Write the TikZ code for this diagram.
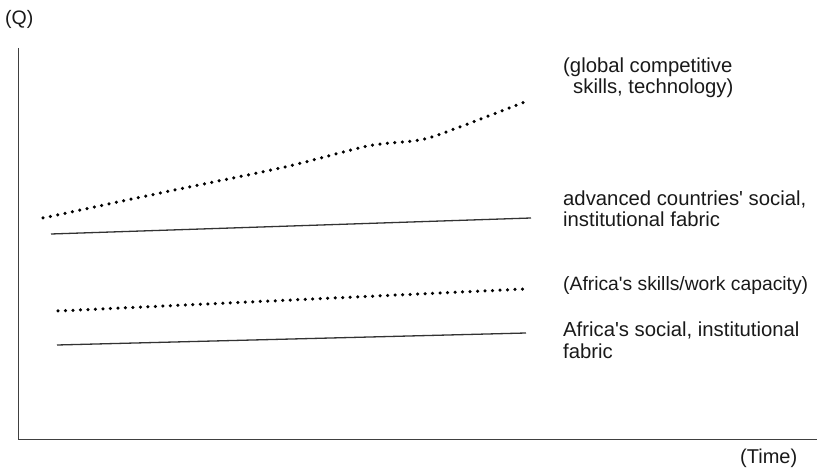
\documentclass[tikz,border=0pt]{standalone}
\usepackage{fontspec}
\setmainfont{Liberation Sans}[Ligatures=TeXOff]
\begin{document}
\begin{tikzpicture}[x=1pt,y=-1pt,
  axisline/.style={line width=1pt,draw=black!75},
  solidcurve/.style={line width=1.3pt,draw=black!80},
  dotcurve/.style={line width=3.5pt,line cap=round,dash pattern=on 0pt off 7.5pt,draw=black},
  lbl/.style={anchor=base west,inner sep=0pt,font=\fontsize{20.3}{20}\selectfont,text=black!90}]
\useasboundingbox (0,0) rectangle (817,470);
% axes
\coordinate (ytop) at (18,48);
\coordinate (orig) at (18,439);
\coordinate (xend) at (817,439);
\draw[axisline] (ytop) -- (orig) -- (xend);
\node[lbl,font=\fontsize{19.5}{20}\selectfont] (q) at (5,25) {(Q)};
\node[lbl,font=\fontsize{20}{20}\selectfont] (time) at (740,463) {(Time)};
% global competitive skills
\draw[dotcurve] plot[smooth,tension=0.5] coordinates {(43,218) (165,192) (285,167) (368,146) (420,140) (457,128) (527,101)};
\node[lbl] (g1) at (563,73) {(global competitive};
\node[lbl] (g2) at (573,94) {skills, technology)};
% advanced countries fabric
\coordinate (a1) at (51,234);
\coordinate (a2) at (531,218);
\draw[solidcurve] (a1) -- (a2);
\node[lbl] (adv1) at (563,206) {advanced countries' social,};
\node[lbl] (adv2) at (563,227) {institutional fabric};
% Africa skills
\coordinate (s1) at (58,311);
\coordinate (s2) at (525,289);
\draw[dotcurve] (s1) -- (s2);
\node[lbl,font=\fontsize{19.3}{20}\selectfont] (afs) at (563,291) {(Africa's skills/work capacity)};
% Africa fabric
\coordinate (f1) at (57,345);
\coordinate (f2) at (526,333);
\draw[solidcurve] (f1) -- (f2);
\node[lbl] (aff1) at (563,337) {Africa's social, institutional};
\node[lbl] (aff2) at (563,359) {fabric};
\end{tikzpicture}
\end{document}
